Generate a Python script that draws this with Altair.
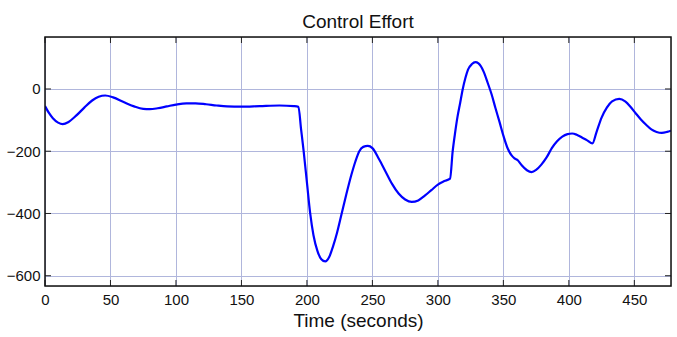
import altair as alt
import pandas as pd

t = [0, 3, 6, 10, 13.5, 18, 24, 30, 36, 41, 46, 52, 60, 68, 75, 80, 86, 93, 100, 108,
     115, 123, 131, 139, 150, 164, 179, 190, 193.5, 195.5, 197.5, 200, 202.5, 205, 208,
     211, 214, 217, 220, 223, 226, 230, 234, 237, 240, 243, 246.5, 250, 255, 260, 265,
     270, 275, 280, 285, 290, 295, 300, 305, 309.3, 311.3, 313, 315, 317, 319, 321, 323,
     326, 328.6, 331, 335, 338, 341, 344, 347, 350, 353, 356, 358.5, 361, 364, 368, 371.5,
     375, 379, 383, 387, 391, 395, 399, 402.5, 406, 410, 414, 418, 421, 425, 429, 433,
     438.5, 443, 447, 451, 455, 459, 463, 467, 471, 475, 478]
u = [-55, -77, -94, -108, -113, -106, -85, -60, -37, -25, -21, -27, -42, -56, -64, -65,
     -62, -56, -50, -46, -46, -49, -53, -56, -57, -55, -53, -55, -57, -128, -200, -300,
     -400, -470, -520, -547, -554, -540, -505, -462, -410, -340, -275, -233, -200, -186,
     -183, -190, -225, -265, -305, -336, -355, -363, -358, -343, -325, -307, -296, -288,
     -200, -145, -89, -45, 0, 35, 62, 80, 86, 82, 55, 20, -17, -62, -105, -150, -188,
     -212, -223, -229, -245, -261, -267, -260, -243, -220, -190, -168, -153, -145, -143,
     -147, -156, -165, -175, -140, -92, -60, -40, -32, -40, -57, -78, -98, -115, -130,
     -138, -141, -138, -134]

x_ticks = [0, 50, 100, 150, 200, 250, 300, 350, 400, 450]
y_ticks = [-600, -400, -200, 0]
x_domain = [0, 478]
y_domain = [-633, 167]

W, H = 626, 249
FONT = "Liberation Sans"
GRID = "#b0b6dc"

df = pd.DataFrame({"t": t, "u": u})
xt = pd.DataFrame({"t": x_ticks})
yt = pd.DataFrame({"u": y_ticks})
one = pd.DataFrame({"k": [0]})

xs = alt.Scale(domain=x_domain, nice=False, zero=False)
ys = alt.Scale(domain=y_domain, nice=False, zero=False)

x_axis = alt.Axis(values=x_ticks, grid=True, gridColor=GRID, gridWidth=1, ticks=False,
                  domain=False, labelFontSize=15, labelFont=FONT, labelColor="#111",
                  labelPadding=6, titleFont=FONT, titleFontSize=19, titleFontWeight="normal",
                  titleColor="#111", titlePadding=4, labelFlush=False)
y_axis = alt.Axis(values=y_ticks, grid=True, gridColor=GRID, gridWidth=1, ticks=False,
                  domain=False, labelFontSize=15, labelFont=FONT, labelColor="#111",
                  labelPadding=5, labelFlush=False)

X = lambda: alt.X("t:Q", scale=xs, title="Time (seconds)", axis=x_axis)
Y = lambda: alt.Y("u:Q", scale=ys, title=None, axis=y_axis)

line = alt.Chart(df).mark_line(color="#0000ff", strokeWidth=2.2, interpolate="monotone", clip=True).encode(
    x=X(), y=Y())

tick_style = dict(color="#222", strokeWidth=1)
bot = alt.Chart(xt).mark_rule(**tick_style).encode(x=X(), y=alt.value(H), y2=alt.value(H - 6))
top = alt.Chart(xt).mark_rule(**tick_style).encode(x=X(), y=alt.value(0), y2=alt.value(6))
left = alt.Chart(yt).mark_rule(**tick_style).encode(y=Y(), x=alt.value(0), x2=alt.value(6))
right = alt.Chart(yt).mark_rule(**tick_style).encode(y=Y(), x=alt.value(W), x2=alt.value(W - 6))

frame = alt.Chart(one).mark_rect(fill=None, fillOpacity=0, stroke="#111", strokeWidth=1.5).encode(
    x=alt.value(0), x2=alt.value(W), y=alt.value(0), y2=alt.value(H))

chart = alt.layer(line, bot, top, left, right, frame).properties(
    width=W, height=H,
    title=alt.Title("Control Effort", font=FONT, fontSize=19, fontWeight="normal",
                    color="#111", offset=4, anchor="middle"),
    autosize=alt.AutoSizeParams(type="none"),
    padding={"left": 45, "top": 37, "right": 6, "bottom": 51},
).configure_view(strokeWidth=0).configure(background="white")

chart.save("out.html", embed_options={"renderer": "svg", "actions": False})
